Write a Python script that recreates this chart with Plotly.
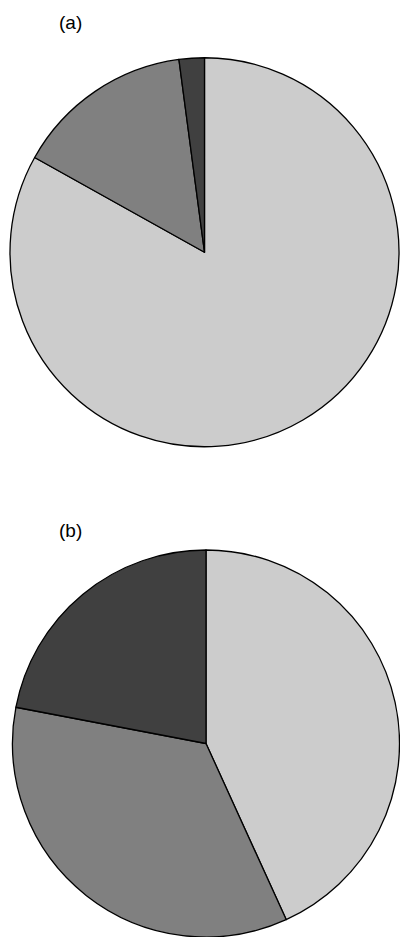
import plotly.graph_objects as go

categories = ["Category 1", "Category 2", "Category 3"]
values_a = [83.1, 14.8, 2.1]
values_b = [43.2, 34.8, 22.0]
panel_labels = ["(a)", "(b)"]
colors = ["#cccccc", "#808080", "#404040"]

W, H = 400, 937

fig = go.Figure()
fig.add_trace(go.Pie(
    labels=categories, values=values_a, sort=False, direction="clockwise",
    rotation=0, textinfo="none", hoverinfo="label+percent",
    marker=dict(colors=colors, line=dict(color="black", width=1.3)),
    domain=dict(x=[10 / W, 399 / W], y=[1 - 447 / H, 1 - 57.5 / H]),
    showlegend=False,
))
fig.add_trace(go.Pie(
    labels=categories, values=values_b, sort=False, direction="clockwise",
    rotation=0, textinfo="none", hoverinfo="label+percent",
    marker=dict(colors=colors, line=dict(color="black", width=1.3)),
    domain=dict(x=[12 / W, 1.0], y=[0.0, 1 - 550 / H]),
    showlegend=False,
))

for lbl, yc in zip(panel_labels, [22.5, 530]):
    fig.add_annotation(
        text=lbl, x=70 / W, y=1 - yc / H, xref="paper", yref="paper",
        xanchor="center", yanchor="middle", showarrow=False,
        font=dict(family="Liberation Sans, Arial, sans-serif", size=19, color="black"),
    )

fig.update_layout(
    width=W, height=H, margin=dict(l=0, r=0, t=0, b=0),
    paper_bgcolor="white", plot_bgcolor="white",
)
fig.write_html(
    "out.html",
    config={"displayModeBar": False},
    post_script="document.body.style.margin='0';document.body.style.overflow='hidden';",
)
